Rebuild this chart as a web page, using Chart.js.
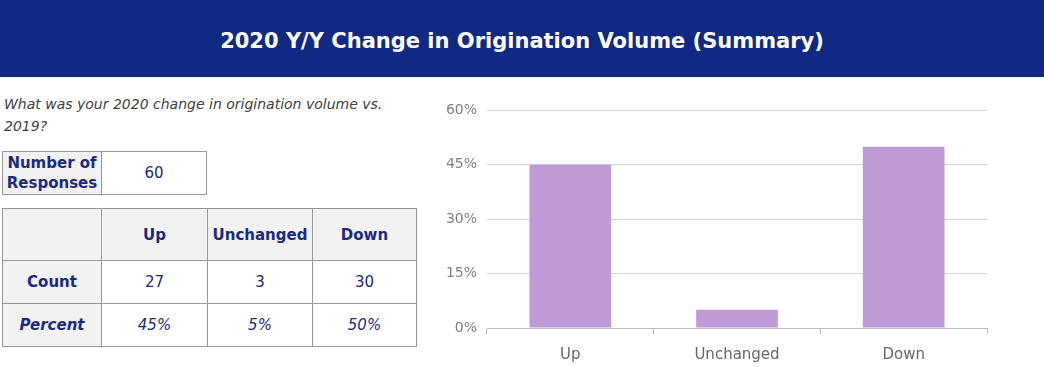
<!DOCTYPE html>
<html>
<head>
<meta charset="utf-8">
<script src="https://cdn.jsdelivr.net/npm/chart.js@4"></script>
<style>
  body { margin: 0; width: 1044px; height: 367px; background: #fff; font-family: "DejaVu Sans", sans-serif; position: relative; overflow: hidden; }
  #header { position: absolute; left: 0; top: 0; width: 1044px; height: 77px; background: #102a83; color: #fff; font-size: 21px; font-weight: bold; text-align: center; line-height: 82px; }
  #question { position: absolute; left: 4px; top: 93px; width: 420px; font-size: 14px; font-style: italic; color: #404040; line-height: 22px; }
  table { position: absolute; border-collapse: collapse; color: #1a2a80; font-size: 15px; }
  td { border: 1.5px solid #999; text-align: center; padding: 0; }
  .lab { background: #f2f2f2; font-weight: bold; }
  #resp { left: 2px; top: 151px; }
  #resp td { height: 42px; }
  #main { left: 2px; top: 208px; }
  #main tr.h td { height: 51px; }
  #main tr.r td { height: 42px; }
  #chartBox { position: absolute; left: 422px; top: 92px; width: 568px; height: 275px; }
</style>
</head>
<body>
<div id="header">2020 Y/Y Change in Origination Volume (Summary)</div>
<div id="question">What was your 2020 change in origination volume vs.<br>2019?</div>
<table id="resp"><tr><td class="lab" style="width:98px;line-height:20px">Number of<br>Responses</td><td style="width:104px">60</td></tr></table>
<table id="main"></table>
<div id="chartBox"><canvas id="chart"></canvas></div>
<script>
const categories = ["Up", "Unchanged", "Down"];
const counts = [27, 3, 30];
const percents = [45, 5, 50];
const yTicks = [0, 15, 30, 45, 60];

const colW = [98, 105, 104, 103];
let html = '<tr class="h"><td class="lab" style="width:' + colW[0] + 'px"></td>';
categories.forEach((c, i) => { html += '<td class="lab" style="width:' + colW[i + 1] + 'px">' + c + '</td>'; });
html += '</tr><tr class="r"><td class="lab">Count</td>';
counts.forEach(v => { html += '<td>' + v + '</td>'; });
html += '</tr><tr class="r"><td class="lab" style="font-style:italic">Percent</td>';
percents.forEach(v => { html += '<td style="font-style:italic">' + v + '%</td>'; });
html += '</tr>';
document.getElementById("main").innerHTML = html;

new Chart(document.getElementById("chart"), {
  type: "bar",
  data: {
    labels: categories,
    datasets: [{ data: percents, backgroundColor: "#c09ad6", barPercentage: 0.49, categoryPercentage: 1 }]
  },
  options: {
    responsive: true,
    maintainAspectRatio: false,
    animation: false,
    layout: { padding: { left: 0, right: 3, top: 4, bottom: 0 } },
    plugins: { legend: { display: false }, tooltip: { enabled: false } },
    scales: {
      y: {
        min: 0, max: 60,
        afterBuildTicks: s => { s.ticks = yTicks.map(v => ({ value: v })); },
        afterFit: s => { s.width = 65; },
        ticks: { callback: v => v + "%", color: "#7f7f7f", font: { family: "DejaVu Sans", size: 14 }, padding: 10 },
        grid: { color: "#d4d4d4", drawTicks: false, lineWidth: 1 },
        border: { display: false }
      },
      x: {
        afterFit: s => { s.height = 39; },
        ticks: { color: "#666", font: { family: "DejaVu Sans", size: 15 }, padding: 12 },
        grid: { display: true, drawOnChartArea: false, drawTicks: true, tickLength: 6, color: "#bbb", offset: true },
        border: { color: "#bbb" }
      }
    }
  }
});
</script>
</body>
</html>
